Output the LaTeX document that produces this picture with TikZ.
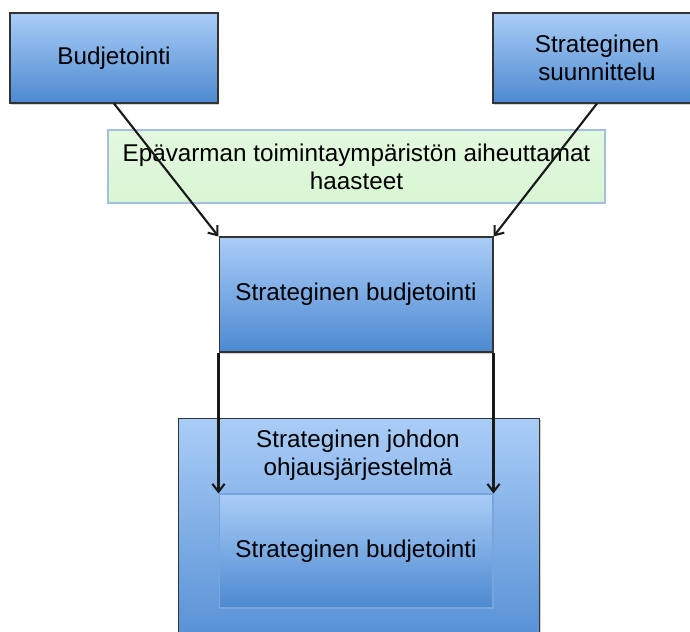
\documentclass[tikz,border=0pt]{standalone}
\usepackage{fontspec}
\setmainfont{Liberation Sans}
\usetikzlibrary{arrows.meta,shadows}

\definecolor{boxtop}{RGB}{170,205,247}
\definecolor{boxbot}{RGB}{76,137,208}
\definecolor{greenfill}{RGB}{216,246,211}
\definecolor{greenline}{RGB}{165,192,222}
\definecolor{innerline}{RGB}{120,165,220}

\begin{document}
\begin{tikzpicture}[x=0.02cm,y=-0.02cm,
    bluebox/.style={draw=black!80,line width=0.6pt,top color=boxtop,bottom color=boxbot,
      inner sep=0pt,align=center,font=\fontsize{13.8}{16}\selectfont,
      drop shadow={shadow xshift=0.5pt,shadow yshift=-1pt,opacity=0.35}},
    greenbox/.style={draw=greenline,line width=0.8pt,top color=greenfill!70!white,bottom color=greenfill,
      inner sep=0pt,align=center,font=\fontsize{13.8}{16}\selectfont},
    arr/.style={-{Straight Barb[length=4.5pt,width=7pt]},line width=1.2pt,black!90}]
    \clip (0,0) rectangle (690,632);

    \node[bluebox,minimum width=4.16cm,minimum height=1.8cm] (bud) at (114,58) {Budjetointi};
    \node[bluebox,minimum width=4.16cm,minimum height=1.8cm] (suun) at (597,58) {Strateginen\\suunnittelu};

    \node[greenbox,minimum width=9.94cm,minimum height=1.46cm] (haast) at (356.5,166.5)
      {Epävarman toimintaympäristön aiheuttamat\\haasteet};

    \node[bluebox,minimum width=5.48cm,minimum height=2.3cm] (sbud) at (356,294.5) {Strateginen budjetointi};

    \node[bluebox,minimum width=7.24cm,minimum height=5cm] (ohj) at (359,543) {};
    \node[font=\fontsize{13.8}{16}\selectfont,align=center] (ohjlbl) at (358,455) {Strateginen johdon\\ohjausjärjestelmä};
    \node[draw=innerline,line width=0.6pt,top color=boxtop,bottom color=boxbot,inner sep=0pt,
      font=\fontsize{13.8}{16}\selectfont,minimum width=5.48cm,minimum height=2.28cm] (sbud2) at (356,551) {Strateginen budjetointi};

    \draw[arr] (bud.south) -- (sbud.north west);
    \draw[arr] (suun.south) -- (sbud.north east);
    \draw[arr] (sbud.south west) -- (sbud2.north west);
    \draw[arr] (sbud.south east) -- (sbud2.north east);
\end{tikzpicture}
\end{document}
